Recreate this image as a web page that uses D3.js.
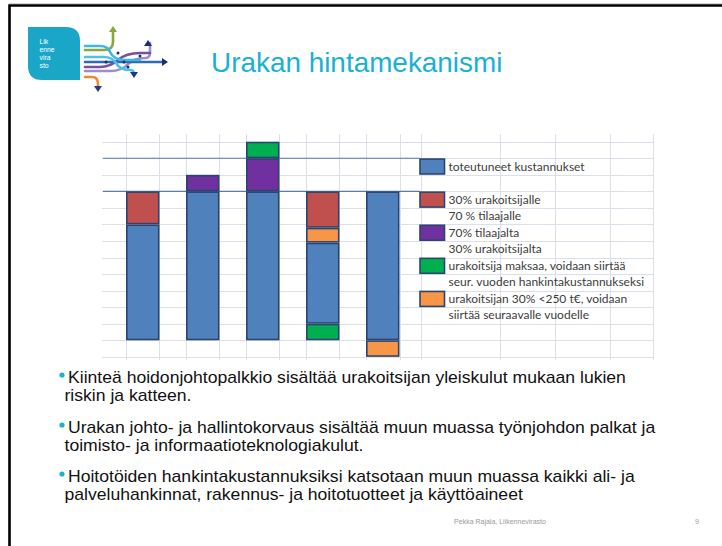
<!DOCTYPE html>
<html>
<head>
<meta charset="utf-8">
<script src="https://cdn.jsdelivr.net/npm/d3@7"></script>
<style>
  html, body { margin: 0; padding: 0; background: #fff; }
  svg { display: block; }
</style>
</head>
<body>
<svg id="slide" width="722" height="546"></svg>
<script>
// ---- data ----
const categories = ["1", "2", "3", "4", "5"];
const toteutuneet = [7, 9, 9, 4.9, 9];      // realised costs (blue)
const urakoitsijalle = [2, 0, 0, 2.2, 0];   // 30% contractor / 70% client (red)
const tilaajalta = [0, 1, 2, 0, 0];         // 70% client / 30% contractor (purple)
const maksaa = [0, 0, 1, 1, 0];             // contractor pays (green)
const alle250 = [0, 0, 0, 0.9, -1];         // contractor 30% < 250 t€ (orange)
const stackOrder = [
  ["toteutuneet", "urakoitsijalle"],
  ["toteutuneet", "tilaajalta"],
  ["toteutuneet", "tilaajalta", "maksaa"],
  ["maksaa", "toteutuneet", "alle250", "urakoitsijalle"],
  ["toteutuneet", "alle250"]
];
const referenceLevels = [9, 11];
const gridValues = d3.range(-1, 13);
const legendKeys = ["toteutuneet", "urakoitsijalle", "tilaajalta", "maksaa", "alle250"];
const legendRows = [11, 9, 7, 5, 3];
const legendLabels = [
  ["toteutuneet kustannukset"],
  ["30% urakoitsijalle", "70 % tilaajalle"],
  ["70% tilaajalta", "30% urakoitsijalta"],
  ["urakoitsija maksaa, voidaan siirtää", "seur. vuoden hankintakustannukseksi"],
  ["urakoitsijan 30% <250 t€, voidaan", "siirtää seuraavalle vuodelle"]
];
const title = "Urakan hintamekanismi";
const logoWords = ["Lik", "enne", "vira", "sto"];
const bullets = [
  ["Kiinteä hoidonjohtopalkkio sisältää urakoitsijan yleiskulut mukaan lukien", "riskin ja katteen."],
  ["Urakan johto- ja hallintokorvaus sisältää muun muassa työnjohdon palkat ja", "toimisto- ja informaatioteknologiakulut."],
  ["Hoitotöiden hankintakustannuksiksi katsotaan muun muassa kaikki ali- ja", "palveluhankinnat, rakennus- ja hoitotuotteet ja käyttöaineet"]
];
const footer = "Pekka Rajala, Liikennevirasto";
const pageNumber = "9";

const seriesValues = { toteutuneet, urakoitsijalle, tilaajalta, maksaa, alle250 };
const colors = {
  toteutuneet: "#4f81bd",
  urakoitsijalle: "#c0504d",
  tilaajalta: "#7030a0",
  maksaa: "#00b050",
  alle250: "#f79646"
};

// ---- drawing ----
const svg = d3.select("#slide");
svg.append("rect").attr("width", 722).attr("height", 546).attr("fill", "#fff");

// slide frame
svg.append("path").attr("d", "M9.5,546 V5.5 H722")
  .attr("fill", "none").attr("stroke", "#000").attr("stroke-width", 2.6);
svg.append("line").attr("x1", 9).attr("x2", 722).attr("y1", 3.5).attr("y2", 3.5)
  .attr("stroke", "#cfcfcf").attr("stroke-width", 1);

// logo
const logo = svg.append("g");
logo.append("path").attr("d", "M28,27 H66 Q80,27 80,41 V80 H42 Q28,80 28,66 Z").attr("fill", "#1aa7c7");
const logoText = logo.append("text")
  .attr("font-family", "Liberation Sans, Arial, sans-serif").attr("font-size", 6.8)
  .attr("fill", "#fff");
logoWords.forEach((t, i) => {
  logoText.append("tspan").attr("x", 39.5).attr("y", 44 + i * 8).text(t);
});
const strands = [
  { d: "M85,77 H92 Q98,77 98,84 V88", c: "#f08a30" },
  { d: "M85,71 H110 Q122,71 128,64 Q134,58 146,58 Q150,58 150,52 V43", c: "#9d8cd0" },
  { d: "M85,67 H100 Q110,67 118,60 Q126,53 140,53 H150", c: "#7a4fa0" },
  { d: "M85,62 H165", c: "#2f6bb5" },
  { d: "M85,57 H104 Q112,57 116,63 Q120,70 130,70 Q134,70 134,74", c: "#4ec3e8" },
  { d: "M85,50 H104 Q113,50 113,42 V30", c: "#86a83e" },
  { d: "M85,46 H100 Q108,46 110,52 Q114,60 124,60 H140", c: "#3fb7e3" }
];
strands.forEach(s => logo.append("path").attr("d", s.d).attr("fill", "none")
  .attr("stroke", s.c).attr("stroke-width", 2.6).attr("stroke-linecap", "round"));
const heads = [
  { p: "M98,92 L94,86 L102,86 Z", c: "#2a3a78" },
  { p: "M113,26 L109,32 L117,32 Z", c: "#86a83e" },
  { p: "M168,62 L162,58 L162,66 Z", c: "#1a2f6e" },
  { p: "M148,40 L144,46 L152,46 Z", c: "#1a2f6e" },
  { p: "M134,78 L130,72 L138,72 Z", c: "#1a3a7a" }
];
heads.forEach(h => logo.append("path").attr("d", h.p).attr("fill", h.c));
[[106, 62], [124, 62], [118, 53], [128, 67], [140, 56]].forEach(([cx, cy]) =>
  logo.append("circle").attr("cx", cx).attr("cy", cy).attr("r", 1.5).attr("fill", "#1a2f6e"));

// title
svg.append("text").attr("x", 211).attr("y", 72).text(title)
  .attr("font-family", "Liberation Sans, Arial, sans-serif").attr("font-size", 27.9)
  .attr("fill", "#19b1d2");

// chart scales
const x = d3.scaleBand().domain(categories).range([126, 399.5]).paddingInner(0.4417).paddingOuter(0);
const y = d3.scaleLinear().domain([0, 12]).range([340.3, 141.7]);
const gridLeft = 102, gridRight = 653;
const legendCols = [420.7, 500, 555, 610, 653];

const chart = svg.append("g");
// horizontal grid
chart.selectAll("line.h").data(gridValues).join("line")
  .attr("x1", gridLeft).attr("x2", gridRight)
  .attr("y1", d => Math.round(y(d)) + 0.5).attr("y2", d => Math.round(y(d)) + 0.5)
  .attr("stroke", "#dcdfea").attr("stroke-width", 1);
// vertical grid
const vx = [];
categories.forEach(c => { vx.push(x(c)); vx.push(x(c) + x.bandwidth()); });
legendCols.forEach(v => vx.push(v));
chart.selectAll("line.v").data(vx).join("line")
  .attr("x1", d => Math.round(d) + 0.5).attr("x2", d => Math.round(d) + 0.5)
  .attr("y1", y(12.45)).attr("y2", y(-1.2))
  .attr("stroke", "#dcdfea").attr("stroke-width", 1);
// reference lines
chart.selectAll("line.ref").data(referenceLevels).join("line")
  .attr("x1", gridLeft + 1).attr("x2", legendCols[0] - 1)
  .attr("y1", d => y(d)).attr("y2", d => y(d))
  .attr("stroke", "#5b79ab").attr("stroke-width", 1.2);

// bars
const segments = [];
categories.forEach((c, i) => {
  let pos = 0, neg = 0;
  stackOrder[i].forEach(k => {
    const v = seriesValues[k][i];
    if (!v) return;
    if (v > 0) { segments.push({ c, k, y0: pos, y1: pos + v }); pos += v; }
    else { segments.push({ c, k, y0: neg + v, y1: neg }); neg += v; }
  });
});
chart.selectAll("rect.seg").data(segments).join("rect")
  .attr("x", d => x(d.c) + 0.8)
  .attr("width", x.bandwidth() - 1.6)
  .attr("y", d => y(d.y1) + 0.8)
  .attr("height", d => Math.max(0, y(d.y0) - y(d.y1) - 1.6))
  .attr("fill", d => colors[d.k])
  .attr("stroke", "#2c4570").attr("stroke-width", 1.6);

// legend
const legend = chart.append("g");
legendKeys.forEach((k, i) => {
  const r = legendRows[i];
  legend.append("rect").attr("x", 420).attr("y", y(r) + 0.8)
    .attr("width", 24.5).attr("height", y(r - 1) - y(r) - 1.6)
    .attr("fill", colors[k]).attr("stroke", "#2c4570").attr("stroke-width", 1.6);
  legendLabels[i].forEach((t, j) => {
    legend.append("text").attr("x", 448.5)
      .attr("y", (y(r - j) + y(r - j - 1)) / 2 + 4)
      .text(t)
      .attr("font-family", "Lato, Liberation Sans, Arial, sans-serif").attr("font-size", 12)
      .attr("fill", "#3c3c3c");
  });
});

// bullets
const bulletTops = [383.5, 433.5, 482.5];
const stretch = 1.1;
bullets.forEach((lines, i) => {
  svg.append("circle").attr("cx", 62).attr("cy", bulletTops[i] - 8.5).attr("r", 2.6).attr("fill", "#19b1d2");
  const para = svg.append("text")
    .attr("transform", `translate(64.5,0) scale(${stretch},1)`)
    .attr("font-family", "Liberation Sans, Arial, sans-serif").attr("font-size", 16)
    .attr("fill", "#111");
  lines.forEach((t, j) => {
    para.append("tspan").attr("x", j === 0 ? 3.5 / stretch : 0).attr("y", bulletTops[i] + j * 18).text(t);
  });
});

// footer
svg.append("text").attr("x", 500).attr("y", 524).attr("text-anchor", "middle").text(footer)
  .attr("font-family", "Liberation Sans, Arial, sans-serif").attr("font-size", 7)
  .attr("fill", "#9a9a9a");
svg.append("text").attr("x", 697).attr("y", 524).attr("text-anchor", "middle").text(pageNumber)
  .attr("font-family", "Liberation Sans, Arial, sans-serif").attr("font-size", 7)
  .attr("fill", "#9a9a9a");
</script>
</body>
</html>
